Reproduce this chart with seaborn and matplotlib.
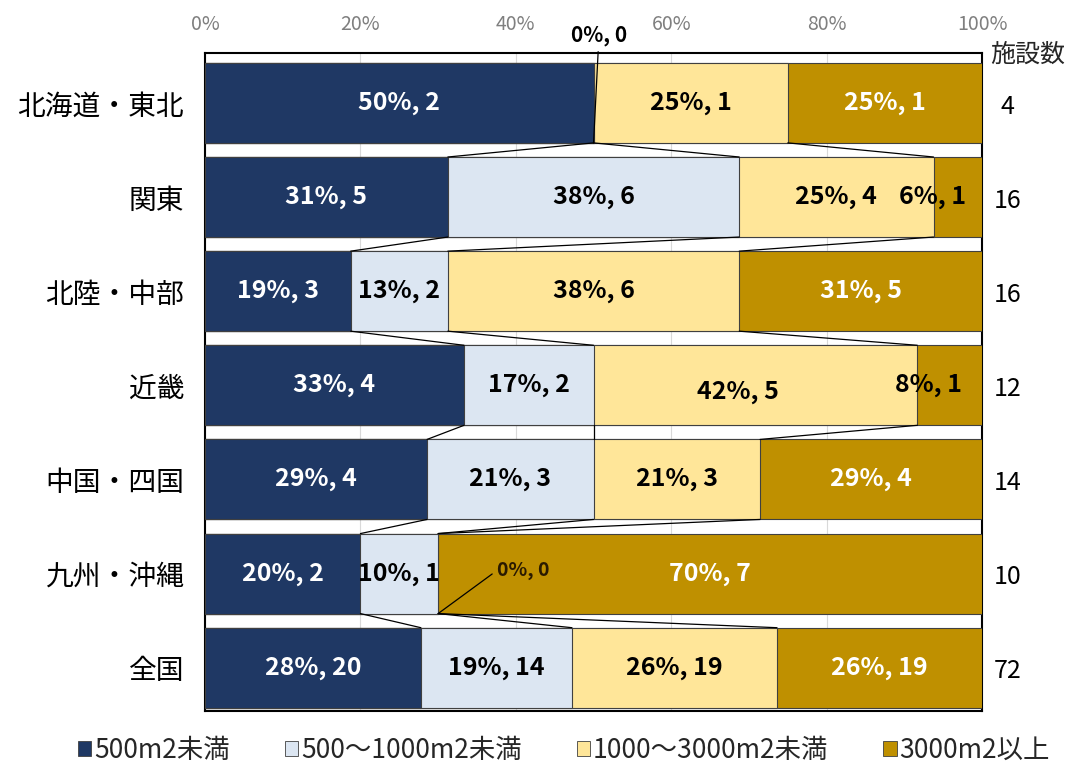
import numpy as np
import pandas as pd
import matplotlib
matplotlib.use("Agg")
import matplotlib.pyplot as plt
from matplotlib.patches import Patch
import seaborn as sns

# data
regions = ['北海道・東北', '関東', '北陸・中部', '近畿', '中国・四国', '九州・沖縄', '全国']
size_classes = ['500m2未満', '500～1000m2未満', '1000～3000m2未満', '3000m2以上']
under_500 = [2, 5, 3, 4, 4, 2, 20]
from_500_to_1000 = [0, 6, 2, 2, 3, 1, 14]
from_1000_to_3000 = [1, 4, 6, 5, 3, 0, 19]
over_3000 = [1, 1, 5, 1, 4, 7, 19]

colors = ['#1F3864', '#DCE6F2', '#FFE699', '#BF9000']
text_colors = ['white', 'black', 'black', 'white']

counts = np.array([under_500, from_500_to_1000, from_1000_to_3000, over_3000]).T
totals = counts.sum(axis=1)
share = counts / totals[:, None]
cum = np.cumsum(share, axis=1)

sns.set_theme(style='white')
plt.rcParams['font.family'] = ['Noto Sans CJK JP', 'DejaVu Sans']

fig = plt.figure(figsize=(10.74, 7.69), dpi=100)
ax = fig.add_axes([0.1909, 0.0754, 0.7235, 0.8557])

# stacked bars: draw cumulative layers from the widest down
BAR_W = 0.85
for k in range(3, -1, -1):
    df = pd.DataFrame({'region': regions, 'value': cum[:, k]})
    sns.barplot(data=df, x='value', y='region', orient='h', color=colors[k],
                width=BAR_W, edgecolor='#404040', linewidth=0.8, saturation=1,
                ax=ax, zorder=3)

# series lines between bars
half = BAR_W / 2
for i in range(len(regions) - 1):
    for k in range(3):
        ax.plot([cum[i, k], cum[i + 1, k]], [i + half, i + 1 - half],
                color='black', lw=0.9, zorder=4)

# manual nudges / colour overrides for crowded labels
nudge = {(1, 3): (-0.033, 0), (3, 2): (-0.023, 0.075), (3, 3): (-0.027, 0)}
color_fix = {(1, 3): 'black', (3, 3): 'black'}

for i in range(len(regions)):
    start = 0
    for k in range(4):
        c = counts[i, k]
        p = share[i, k]
        if c > 0:
            dx, dy = nudge.get((i, k), (0, 0))
            ax.text(start + p / 2 + dx, i + dy, f'{int(p * 100 + 0.5)}%, {c}',
                    ha='center', va='center', fontsize=18, fontweight='bold',
                    color=color_fix.get((i, k), text_colors[k]), zorder=5)
        start += p
    ax.text(1.033, i + 0.04, str(totals[i]), ha='center', va='center', fontsize=18,
            color='black', transform=ax.get_yaxis_transform(), clip_on=False)

# zero-value labels with leader lines
ax.annotate('0%, 0', xy=(cum[0, 1], 0 + half), xytext=(0.507, -0.72),
            ha='center', va='center', fontsize=15, fontweight='bold', color='black',
            arrowprops=dict(arrowstyle='-', color='black', lw=0.9, shrinkA=2, shrinkB=0),
            zorder=6, annotation_clip=False)
ax.annotate('0%, 0', xy=(cum[5, 2], 5 + half), xytext=(0.409, 4.97),
            ha='center', va='center', fontsize=14, fontweight='bold', color='#2a1a00',
            arrowprops=dict(arrowstyle='-', color='black', lw=0.9, shrinkA=1,
                            shrinkB=0, relpos=(0, 0.5)), zorder=6)

ax.text(1.059, 0.997, '施設数', ha='center', va='center', fontsize=18,
        transform=ax.transAxes, clip_on=False)

ax.set_xlim(0, 1)
ax.set_ylim(6.46, -0.53)
ax.set_xticks(np.linspace(0, 1, 6))
ax.set_xticklabels([f'{v}%' for v in range(0, 101, 20)])
ax.xaxis.tick_top()
ax.tick_params(axis='x', colors='#7f7f7f', labelsize=14, length=0, pad=13)
ax.tick_params(axis='y', labelsize=20, length=0, pad=15, labelcolor='black')
ax.set_xlabel('')
ax.set_ylabel('')
ax.grid(axis='x', color='#d9d9d9', lw=0.8, zorder=0)
for s in ax.spines.values():
    s.set_visible(True)
    s.set_color('black')
    s.set_linewidth(1.5)

handles = [Patch(facecolor=colors[k], edgecolor='#404040', lw=0.6) for k in range(4)]
fig.legend(handles, size_classes, loc='center', ncol=4, frameon=False,
           fontsize=19, bbox_to_anchor=(0.525, 0.024), handlelength=0.5,
           handleheight=0.5, handletextpad=0.1, columnspacing=2.1)

fig.savefig('out.png', dpi=100)
